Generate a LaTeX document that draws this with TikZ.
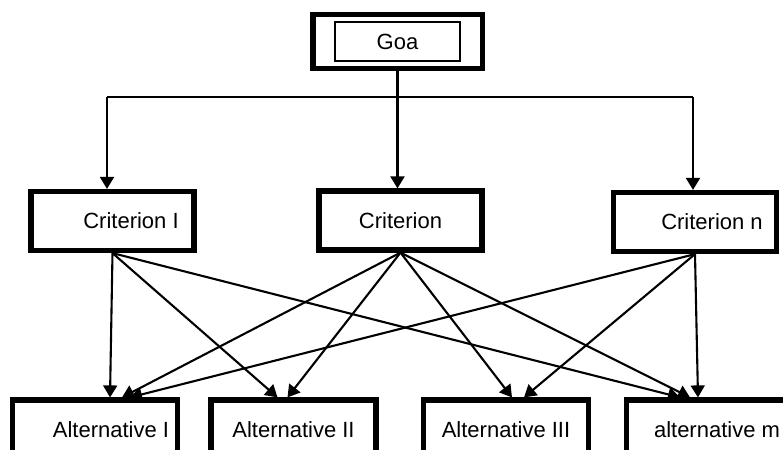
\documentclass[tikz,border=0pt]{standalone}
\usepackage{fontspec}
\setmainfont{Liberation Sans}
\usetikzlibrary{arrows.meta,fit}
\tikzstyle{crit} = [draw, line width=2.6pt, minimum width=81.5pt, minimum height=29.5pt, inner sep=0pt]
\tikzstyle{alt} = [draw, line width=2.6pt, minimum width=82.5pt, minimum height=30pt, inner sep=0pt]
\tikzstyle{arr} = [line width=1.05pt, -{Triangle[length=6pt,width=7pt]}]

\begin{document}
\begin{tikzpicture}[x=0.5pt,y=-0.5pt]
			\tikzset{every node/.style={font=\fontsize{11}{13}\selectfont}}
\clip (0,0) rectangle (783,450);

\node[draw, line width=1.1pt, minimum width=62.5pt, minimum height=19.5pt, inner sep=0pt] (goal) at (397.5,41.5) {Goa};
\node[draw, line width=2.6pt, fit=(goal), inner xsep=10.5pt, inner ysep=3.25pt] (goalframe) {};

\node[crit] (c1) at (112.5,221) {\hspace*{18.5pt}\raisebox{-2.5pt}{Criterion I}};
\node[crit] (c2) at (400.5,220.5) {Criterion};
\node[crit] (cn) at (695,222) {\hspace*{17pt}Criterion n};

\node[alt] (a1) at (95,430) {\hspace*{16pt}Alternative I};
\node[alt] (a2) at (293.5,430) {Alternative II};
\node[alt] (a3) at (506,430) {Alternative III};
\node[alt] (am) at (709,430) {\hspace*{8pt}alternative m};

% goal to criteria
\coordinate (busm) at (goalframe.south |- 0,97);
\coordinate (busl) at (107,97);
\coordinate (busr) at (693,97);
\draw[line width=1.05pt] (goalframe.south) -- (busm);
\draw[line width=1.05pt] (busl) -- (busr);
\foreach \bus/\crit in {busl/c1,busm/c2,busr/cn}
{
	\draw[arr] (\bus) -- (\bus |- \crit.north);
}

% criteria to alternatives
\foreach \from/\to/\dx in {c1/a1/7.5pt,c1/a2/-8pt,c1/am/-14.5pt,c2/a1/13.5pt,c2/a2/-3pt,c2/a3/3pt,c2/am/-9.5pt,cn/a1/17.5pt,cn/a3/9pt,cn/am/-5.5pt}
{
	\draw[arr] (\from.south) -- ([xshift=\dx]\to.north);
}

		\end{tikzpicture}
\end{document}
